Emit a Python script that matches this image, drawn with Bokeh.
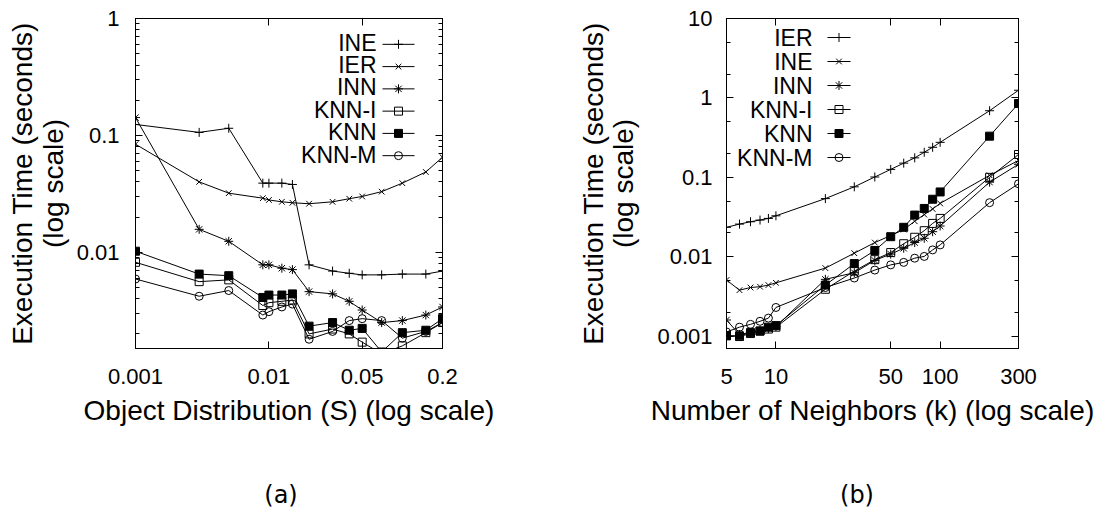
import math
from bokeh.plotting import figure
from bokeh.models import LogAxis, FixedTicker, Label, Title, Div
from bokeh.layouts import row, column
from bokeh.embed import file_html
from bokeh.resources import INLINE

FONT = "Liberation Sans"

# ---------------- panel (a): object distribution ----------------
a_s = [0.001, 0.003, 0.005, 0.009, 0.01, 0.0125, 0.015, 0.02, 0.03, 0.04, 0.05, 0.07, 0.1, 0.15, 0.2]
a_INE = [0.124, 0.106, 0.115, 0.039, 0.039, 0.039, 0.038, 0.0078, 0.0069, 0.0066, 0.0064, 0.0064, 0.0065, 0.0065, 0.0069]
a_IER = [0.084, 0.040, 0.032, 0.029, 0.028, 0.027, 0.0265, 0.026, 0.027, 0.0287, 0.030, 0.033, 0.039, 0.0486, 0.065]
a_INN = [0.142, 0.0157, 0.0124, 0.0078, 0.0078, 0.0073, 0.0071, 0.0046, 0.0044, 0.0038, 0.0032, 0.0025, 0.0026, 0.0029, 0.0034]
a_KNNI = [0.0082, 0.0056, 0.0058, 0.0035, 0.0037, 0.0038, 0.0039, 0.0020, 0.0022, 0.0020, 0.0017, 0.00135, 0.00158, 0.00205, 0.0025]
a_KNN = [0.0102, 0.0065, 0.0063, 0.0041, 0.0043, 0.0043, 0.0044, 0.00233, 0.0025, 0.00215, 0.00223, 0.0014, 0.00205, 0.00215, 0.0027]
a_KNNM = [0.0059, 0.0042, 0.0047, 0.0029, 0.0031, 0.0034, 0.0036, 0.0018, 0.0021, 0.0026, 0.0027, 0.0026, 0.00184, 0.0021, 0.0025]
a_names = ["INE", "IER", "INN", "KNN-I", "KNN", "KNN-M"]
a_x_ticks = [0.001, 0.01, 0.05, 0.2]
a_x_labels = ["0.001", "0.01", "0.05", "0.2"]
a_y_ticks = [0.01, 0.1, 1]
a_y_labels = ["0.01", "0.1", "1"]

# ---------------- panel (b): number of neighbours ----------------
b_k = [5, 6, 7, 8, 9, 10, 20, 30, 40, 50, 60, 70, 80, 90, 100, 200, 300]
b_IER = [0.0235, 0.0258, 0.0276, 0.029, 0.0304, 0.0328, 0.054, 0.076, 0.101, 0.126, 0.151, 0.176, 0.207, 0.239, 0.276, 0.69, 1.25]
b_INE = [0.0051, 0.0038, 0.0041, 0.0042, 0.0044, 0.0047, 0.0072, 0.0111, 0.0151, 0.0185, 0.022, 0.028, 0.034, 0.040, 0.047, 0.106, 0.163]
b_INN = [0.0016, 0.00105, 0.00112, 0.00118, 0.00125, 0.00132, 0.0052, 0.0063, 0.009, 0.0108, 0.0128, 0.0151, 0.0171, 0.0207, 0.0244, 0.087, 0.146]
b_KNNI = [0.00102, 0.00099, 0.00108, 0.00116, 0.00123, 0.0013, 0.0039, 0.0066, 0.0092, 0.0113, 0.0146, 0.0176, 0.0213, 0.0263, 0.0304, 0.10, 0.194]
b_KNN = [0.00101, 0.00101, 0.00111, 0.00116, 0.0013, 0.00136, 0.0044, 0.0082, 0.012, 0.0179, 0.0235, 0.0335, 0.0406, 0.053, 0.0655, 0.33, 0.85]
b_KNNM = [0.00113, 0.0013, 0.00141, 0.00154, 0.00169, 0.0023, 0.0041, 0.0054, 0.0068, 0.0079, 0.0085, 0.0096, 0.0101, 0.0122, 0.0141, 0.048, 0.083]
b_names = ["IER", "INE", "INN", "KNN-I", "KNN", "KNN-M"]
b_x_ticks = [5, 10, 50, 100, 300]
b_x_labels = ["5", "10", "50", "100", "300"]
b_y_ticks = [0.001, 0.01, 0.1, 1, 10]
b_y_labels = ["0.001", "0.01", "0.1", "1", "10"]

# marker styles in legend order (+, x, *, open square, filled square, open circle)
MARKERS = [("cross", None, 9), ("x", None, 8), ("asterisk", None, 9),
           ("square", None, 8), ("square", "black", 8), ("circle", None, 8)]


def minor_log(lo_exp, hi_exp, mults):
    return [m * 10.0 ** e for e in range(lo_exp, hi_exp + 1) for m in mults]


def base_axis_style(ax):
    ax.major_tick_in = 7
    ax.major_tick_out = 0
    ax.minor_tick_in = 4
    ax.minor_tick_out = 0
    ax.major_tick_line_color = "black"
    ax.minor_tick_line_color = "black"
    ax.axis_line_color = "black"


def style_axis(ax, ticks, labels, minor):
    base_axis_style(ax)
    ax.ticker = FixedTicker(ticks=ticks, minor_ticks=minor)
    ax.major_label_overrides = {float(t): l for t, l in zip(ticks, labels)}
    ax.major_label_text_font = FONT
    ax.major_label_text_color = "black"
    ax.major_label_text_font_size = "22px"
    ax.axis_label_text_font = FONT
    ax.axis_label_text_font_style = "normal"
    ax.axis_label_text_color = "black"
    ax.axis_label_text_font_size = "28px"


def mirror_axis(p, side, majors, minors):
    # tick marks only (no labels) on the opposite border, like gnuplot's mirrored tics
    for vals, length in ((majors, 7), (minors, 4)):
        ax = LogAxis(ticker=FixedTicker(ticks=[], minor_ticks=vals))
        base_axis_style(ax)
        ax.minor_tick_in = length
        ax.major_label_standoff = 0
        ax.axis_label_standoff = 0
        p.add_layout(ax, side)


def make_panel(xs, series, names, xr, yr, xticks, xlabels, yticks, ylabels, xminor, yminor,
               xtitle, width, height, frame, legend_layout, ylab_standoff, ytick_standoff):
    left, top, fw, fh = frame
    p = figure(width=width, height=height, x_axis_type="log", y_axis_type="log",
               x_range=xr, y_range=yr, output_backend="svg", toolbar_location=None,
               min_border_left=left, min_border_right=width - left - fw,
               min_border_top=top, min_border_bottom=height - top - fh)
    p.grid.visible = False
    p.outline_line_color = "black"
    p.outline_line_width = 1
    p.background_fill_color = "white"
    p.border_fill_color = "white"

    xa = p.xaxis[0]
    ya = p.yaxis[0]
    style_axis(xa, xticks, xlabels, xminor)
    style_axis(ya, yticks, ylabels, yminor)
    xa.axis_label = xtitle
    xa.major_label_standoff = 20
    xa.axis_label_standoff = 8
    ya.axis_label = "(log scale)"
    ya.major_label_standoff = ytick_standoff
    ya.axis_label_standoff = ylab_standoff
    p.add_layout(Title(text="Execution Time (seconds)", align="center", vertical_align="bottom",
                       standoff=-6, text_font=FONT, text_font_size="28px",
                       text_font_style="normal", text_color="black"), "left")

    mirror_axis(p, "above", xticks, xminor)
    mirror_axis(p, "right", yticks, yminor)

    # data
    for ys, (mk, fill, sz) in zip(series, MARKERS):
        p.line(xs, ys, line_color="black", line_width=1)
        p.scatter(xs, ys, marker=mk, size=sz, line_color="black", line_width=1,
                  fill_color=fill, fill_alpha=1 if fill else 0)

    # key (label right-aligned, sample to its right), positions in frame pixels
    text_right, samp_l, samp_r, row0, pitch = legend_layout
    lx0, lx1 = math.log10(xr[0]), math.log10(xr[1])
    ly0, ly1 = math.log10(yr[0]), math.log10(yr[1])

    def fx(px):
        return 10 ** (lx0 + px / fw * (lx1 - lx0))

    def fy(py_from_top):
        return 10 ** (ly1 - py_from_top / fh * (ly1 - ly0))

    for i, (name, (mk, fill, sz)) in enumerate(zip(names, MARKERS)):
        rc = row0 + i * pitch
        p.add_layout(Label(x=text_right, y=fh - rc, x_units="screen", y_units="screen",
                           text=name, text_align="right", text_baseline="middle",
                           text_font=FONT, text_font_size="23px", text_color="black"))
        yv = fy(rc)
        p.line([fx(samp_l), fx(samp_r)], [yv, yv], line_color="black", line_width=1)
        p.scatter([fx((samp_l + samp_r) / 2)], [yv], marker=mk, size=sz, line_color="black",
                  line_width=1, fill_color=fill, fill_alpha=1 if fill else 0)
    return p


FIG_H = 479
p1 = make_panel(a_s, [a_INE, a_IER, a_INN, a_KNNI, a_KNN, a_KNNM], a_names,
                (0.001, 0.2), (0.0015, 1), a_x_ticks, a_x_labels, a_y_ticks, a_y_labels,
                [], minor_log(-3, 0, [2, 3, 4, 5, 6, 7, 8, 9]),
                "Object Distribution (S) (log scale)", 560, FIG_H, (135, 17, 307, 332),
                (241, 247, 279, 26, 22.4), 5, 16)

p2 = make_panel(b_k, [b_IER, b_INE, b_INN, b_KNNI, b_KNN, b_KNNM], b_names,
                (5, 300), (0.0007, 10), b_x_ticks, b_x_labels, b_y_ticks, b_y_labels,
                [], minor_log(-4, 1, [2, 5]),
                "Number of Neighbors (k) (log scale)", 548, FIG_H, (166, 18, 292, 330),
                (86, 101, 124, 19, 24), 15, 14)


def caption(txt, w, shift):
    return Div(text=f"<span style='position:relative;left:{shift}px'>{txt}</span>",
               width=w, height=519 - FIG_H,
               styles={"text-align": "center", "font-family": "DejaVu Sans",
                       "font-size": "24px", "line-height": "22px", "color": "black",
                       "width": f"{w}px"})


layout = column(row(p1, p2), row(caption("(a)", 560, -4), caption("(b)", 548, 8)))
open("out.html", "w").write(file_html(layout, INLINE))
